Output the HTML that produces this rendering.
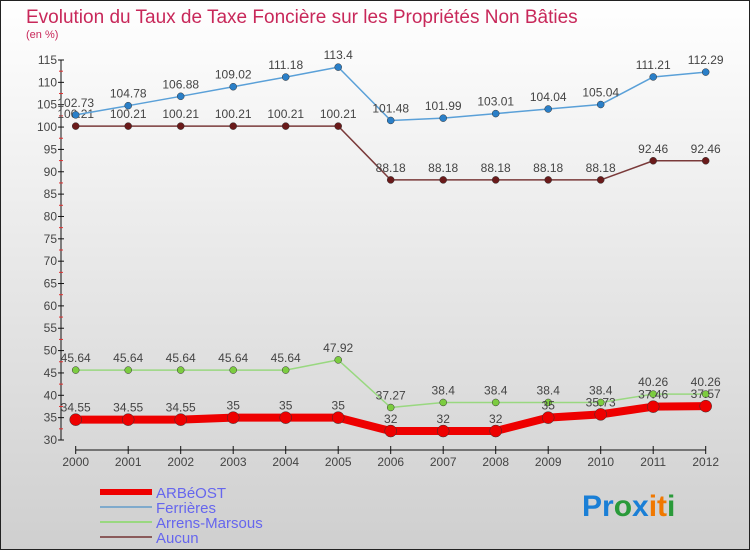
<!DOCTYPE html>
<html><head><meta charset="utf-8"><style>
body{margin:0;width:750px;height:550px;overflow:hidden}
svg{display:block;font-family:"Liberation Sans",sans-serif}
</style></head><body>
<svg id="chart" width="750" height="550">
<defs><linearGradient id="bg" x1="0" y1="0" x2="0" y2="1"><stop offset="0" stop-color="#ffffff"/><stop offset="1" stop-color="#cfcfcf"/></linearGradient></defs>
<rect x="0.5" y="0.5" width="749" height="549" fill="url(#bg)" stroke="#222"/>
<text x="26" y="23" font-size="19" fill="#c8285a">Evolution du Taux de Taxe Foncière sur les Propriétés Non Bâties</text>
<text x="26" y="38" font-size="11" fill="#c8285a">(en %)</text>
<g id="axes"></g><g id="series"></g>
<g>
<line x1="100" y1="492" x2="152" y2="492" stroke="#ee0000" stroke-width="6"/>
<text x="156" y="498" font-size="15" fill="#6666ee">ARBéOST</text>
<line x1="100" y1="507" x2="152" y2="507" stroke="#7faacc" stroke-width="2"/>
<text x="156" y="513" font-size="15" fill="#6666ee">Ferrières</text>
<line x1="100" y1="522" x2="152" y2="522" stroke="#99d880" stroke-width="2"/>
<text x="156" y="528" font-size="15" fill="#6666ee">Arrens-Marsous</text>
<line x1="100" y1="537" x2="152" y2="537" stroke="#8a5a5a" stroke-width="2"/>
<text x="156" y="543" font-size="15" fill="#6666ee">Aucun</text>
</g>
<g font-size="30" font-weight="bold">
<text x="582" y="516"><tspan fill="#1a7fd6">Pr</tspan><tspan fill="#2a9a3a">o</tspan><tspan fill="#1a7fd6">x</tspan><tspan fill="#f07800">i</tspan><tspan fill="#f07800">t</tspan><tspan fill="#2a9a3a">i</tspan></text>
</g>
</svg>
<script>
const years=["2000","2001","2002","2003","2004","2005","2006","2007","2008","2009","2010","2011","2012"];
const arbeost=[34.55,34.55,34.55,35,35,35,32,32,32,35,35.73,37.46,37.57];
const ferrieres=[102.73,104.78,106.88,109.02,111.18,113.4,101.48,101.99,103.01,104.04,105.04,111.21,112.29];
const arrens=[45.64,45.64,45.64,45.64,45.64,47.92,37.27,38.4,38.4,38.4,38.4,40.26,40.26];
const aucun=[100.21,100.21,100.21,100.21,100.21,100.21,88.18,88.18,88.18,88.18,88.18,92.46,92.46];
const yTicks=[30,35,40,45,50,55,60,65,70,75,80,85,90,95,100,105,110,115];
const NS="http://www.w3.org/2000/svg";
const xs=i=>75.7+i*52.5;
const ys=v=>440-(v-30)*380/85;
function mk(tag,attrs,parent){const e=document.createElementNS(NS,tag);for(const k in attrs)e.setAttribute(k,attrs[k]);parent.appendChild(e);return e;}
const axes=document.getElementById('axes');
const yAxis=mk('line',{x1:61,y1:ys(115),x2:61,y2:ys(30),stroke:'#111'},axes);


yTicks.forEach(t=>{
  mk('line',{x1:58,x2:64,y1:ys(t),y2:ys(t),stroke:'#111'},axes);
  if(t<115) mk('line',{x1:59,x2:63,y1:ys(t+2.5),y2:ys(t+2.5),stroke:'#e03030'},axes);
  const tx=mk('text',{x:57,y:ys(t)+4,'font-size':12,'text-anchor':'end',fill:'#444'},axes);
  tx.textContent=t;
  
  
});
const xAxis=mk('line',{x1:xs(0),y1:450,x2:xs(12),y2:450,stroke:'#111'},axes);


years.forEach((y,i)=>{
  mk('line',{x1:xs(i),x2:xs(i),y1:446,y2:454,stroke:'#111'},axes);
  const tx=mk('text',{x:xs(i),y:466,'font-size':12,'text-anchor':'middle',fill:'#444'},axes);
  tx.textContent=y;
  
  
});
const sg=document.getElementById('series');
function series(vals,name,color,w,r,dot){
  const g=mk('g',{},sg);
  
  
  const pl=mk('polyline',{points:vals.map((v,i)=>xs(i)+','+ys(v)).join(' '),fill:'none',stroke:color,'stroke-width':w,'stroke-linejoin':'round'},g);
  
  
  vals.forEach((v,i)=>{
    const c=mk('circle',{cx:xs(i),cy:ys(v),r:r,fill:dot,stroke:'#333','stroke-width':0.5},g);
    
    
    const t=mk('text',{x:xs(i),y:ys(v)-8,'font-size':12,'text-anchor':'middle',fill:'#444'},g);
    t.textContent=String(v);
    
    
  });
}
series(aucun,'aucun','#7a3a3a',1.5,3.5,'#6a1a1a');
series(ferrieres,'ferrieres','#5aa0d8',1.5,3.5,'#2a7fc8');
series(arrens,'arrens','#99d880',1.5,3.5,'#7ccc40');
series(arbeost,'arbeost','#ee0000',8,6,'#ee0000');
</script>
</body></html>
